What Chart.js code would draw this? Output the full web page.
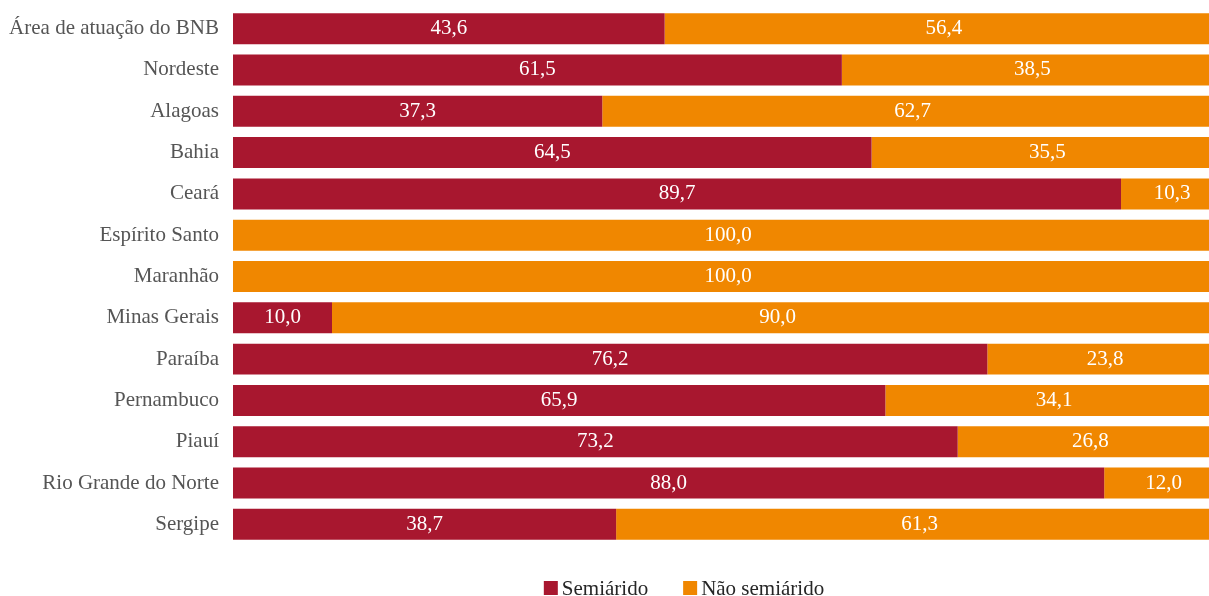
<!DOCTYPE html>
<html>
<head>
<meta charset="utf-8">
<script src="https://cdn.jsdelivr.net/npm/chart.js@4/dist/chart.umd.min.js"></script>
<style>
  html, body { margin: 0; padding: 0; background: #fff; overflow: hidden; }
  #wrap { width: 1209px; height: 596px; overflow: hidden; }
</style>
</head>
<body>
<!-- the plot runs a little past the right edge in the original, so the canvas is wider than the page -->
<div id="wrap"><canvas id="chart" width="1223" height="596"></canvas></div>
<script>
var categories = ['Área de atuação do BNB', 'Nordeste', 'Alagoas', 'Bahia', 'Ceará',
    'Espírito Santo', 'Maranhão', 'Minas Gerais', 'Paraíba', 'Pernambuco', 'Piauí',
    'Rio Grande do Norte', 'Sergipe'];
var semiarido    = [43.6, 61.5, 37.3, 64.5, 89.7, 0, 0, 10.0, 76.2, 65.9, 73.2, 88.0, 38.7];
var naoSemiarido = [56.4, 38.5, 62.7, 35.5, 10.3, 100.0, 100.0, 90.0, 23.8, 34.1, 26.8, 12.0, 61.3];

var RED = '#A8172F';
var ORANGE = '#F08700';
var FONT = "'Liberation Serif', 'Times New Roman', serif";

// write the value in the middle of each bar piece
var barLabels = {
    id: 'barLabels',
    afterDatasetsDraw: function(chart) {
        var ctx = chart.ctx;
        ctx.save();
        ctx.fillStyle = '#fff';
        ctx.font = '21px ' + FONT;
        ctx.textAlign = 'center';
        ctx.textBaseline = 'middle';
        chart.data.datasets.forEach(function(ds, i) {
            var meta = chart.getDatasetMeta(i);
            meta.data.forEach(function(bar, j) {
                var v = ds.data[j];
                if (!v) return;
                var x = (bar.x + bar.base) / 2;
                ctx.fillText(v.toFixed(1).replace('.', ','), x, bar.y);
            });
        });
        ctx.restore();
    }
};

// legend under the plot, small gap between box and text
var bottomLegend = {
    id: 'bottomLegend',
    afterDraw: function(chart) {
        var ctx = chart.ctx;
        var box = 14, gap = 4, space = 35, cy = 588, cx = 684;
        ctx.save();
        ctx.font = '21px ' + FONT;
        ctx.textBaseline = 'middle';
        var items = chart.data.datasets;
        var total = 0;
        items.forEach(function(ds, i) {
            total += box + gap + ctx.measureText(ds.label).width + (i ? space : 0);
        });
        var x = cx - total / 2;
        items.forEach(function(ds) {
            ctx.fillStyle = ds.backgroundColor;
            ctx.fillRect(x, cy - box / 2, box, box);
            x += box + gap;
            ctx.fillStyle = '#262626';
            ctx.fillText(ds.label, x, cy + 1);
            x += ctx.measureText(ds.label).width + space;
        });
        ctx.restore();
    }
};

var chart = new Chart(document.getElementById('chart'), {
    type: 'bar',
    data: {
        labels: categories,
        datasets: [
            { label: 'Semiárido', data: semiarido, backgroundColor: RED,
              barPercentage: 0.75, categoryPercentage: 1 },
            { label: 'Não semiárido', data: naoSemiarido, backgroundColor: ORANGE,
              barPercentage: 0.75, categoryPercentage: 1 }
        ]
    },
    options: {
        indexAxis: 'y',
        responsive: false,
        animation: false,
        layout: { padding: { top: 8, right: 0, bottom: 51, left: 0 } },
        scales: {
            x: {
                stacked: true, min: 0, max: 100,
                display: false
            },
            y: {
                stacked: true,
                grid: { display: false },
                border: { display: false },
                ticks: { color: '#555', font: { family: FONT, size: 21 }, padding: 6 },
                afterFit: function(s) {
                    s.width = 233;
                    s.paddingTop = 0;
                    s.paddingBottom = 0;
                }
            }
        },
        plugins: {
            legend: { display: false },
            tooltip: { enabled: false }
        }
    },
    plugins: [barLabels, bottomLegend]
});
</script>
</body>
</html>
